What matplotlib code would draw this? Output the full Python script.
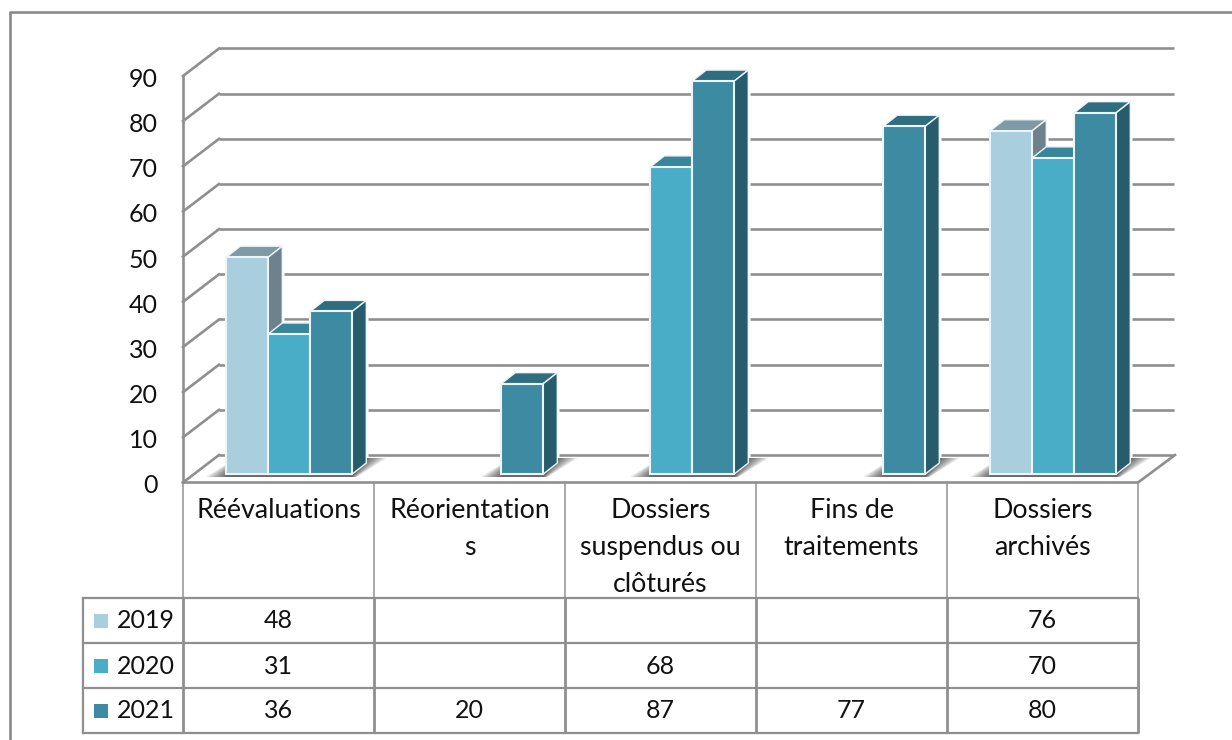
import matplotlib
matplotlib.use("Agg")
import matplotlib.pyplot as plt
from matplotlib.patches import Polygon, Rectangle
from matplotlib.transforms import Affine2D

plt.rcParams['font.family'] = ['Lato', 'DejaVu Sans']

# ---- data ----
categories = ["Réévaluations", "Réorientation\ns", "Dossiers\nsuspendus ou\nclôturés",
              "Fins de\ntraitements", "Dossiers\narchivés"]
years = ["2019", "2020", "2021"]
values_2019 = [48, None, None, None, 76]
values_2020 = [31, None, 68, None, 70]
values_2021 = [36, 20, 87, 77, 80]
y_ticks = [0, 10, 20, 30, 40, 50, 60, 70, 80, 90]

# ---- styles ----
front = ["#a9cedd", "#49adc8", "#3d8aa3"]
top = ["#7d9aa6", "#38869c", "#2e6e80"]
side = ["#6d828d", "#2f7488", "#265c6b"]
GRID = "#8f8f8f"
FS_NUM = 18
FS_TXT = 19.3
LW = 1.9

W, H = 1232, 740
fig = plt.figure(figsize=(W / 100, H / 100), dpi=100)

X0, X1, Y0, Y90 = 183, 1138, 482.5, 76
ax = fig.add_axes([X0 / W, 1 - Y0 / H, (X1 - X0) / W, (Y0 - Y90) / H])
ax.set_xlim(0, 5)
ax.set_ylim(0, 90)
ax.patch.set_alpha(0)
for s in ["top", "right", "bottom"]:
    ax.spines[s].set_visible(False)
ax.spines["left"].set_color(GRID)
ax.spines["left"].set_linewidth(LW)
ax.set_xticks([])
ax.set_yticks(y_ticks)
ax.tick_params(axis="y", length=0, pad=18, labelsize=FS_NUM)
for lab in ax.get_yticklabels():
    lab.set_color("#111111")
    lab.set_transform(lab.get_transform() + Affine2D().translate(0, -1.5))


def shifted(dx, dy):
    return ax.transData + Affine2D().translate(dx, dy)


WALL = shifted(36, 27.5)      # back wall of the 3-D box
BASE = shifted(10.8, 8.5)     # front faces of the columns
DX, DY = 14, 11               # depth of a column

# back wall grid and oblique links on the side wall
for v in y_ticks:
    ax.plot([0, 5], [v, v], transform=WALL, color=GRID, lw=LW, zorder=1, clip_on=False,
            solid_capstyle="butt")
    pf = ax.transData.transform((0, v))
    ax.add_line(plt.Line2D([pf[0], pf[0] + 36], [pf[1], pf[1] + 27.5], transform=None,
                           color=GRID, lw=LW, zorder=1, clip_on=False))

# floor front edge and right edge
pf0 = ax.transData.transform((0, 0))
pf1 = ax.transData.transform((5, 0))
ax.add_line(plt.Line2D([pf0[0], pf1[0], pf1[0] + 37], [pf0[1], pf1[1], pf1[1] + 27.5],
                       transform=None, color=GRID, lw=LW, zorder=1, clip_on=False))

bar_w = 42 / 191
series = [values_2019, values_2020, values_2021]

# white halo behind the columns cuts the grid lines
for c in range(len(categories)):
    for i in range(len(years)):
        v = series[i][c]
        if v is None:
            continue
        a = c + 0.5 + (i - 1.5) * bar_w
        pa = BASE.transform((a, v))
        pb = BASE.transform((a + bar_w, v))
        p0b = BASE.transform((a + bar_w, 0))
        ax.add_patch(Polygon([pa, [pa[0] + DX, pa[1] + DY], [pb[0] + DX, pb[1] + DY],
                              [p0b[0] + DX, p0b[1] + DY], p0b],
                             closed=True, transform=None, facecolor="white",
                             edgecolor="white", lw=3.2, zorder=2, clip_on=False))

# soft floor shadow under each run of columns
for c in range(len(categories)):
    idx = [i for i, s_ in enumerate(series) if s_[c] is not None]
    if not idx:
        continue
    a = c + 0.5 + (idx[0] - 1.5) * bar_w
    b = c + 0.5 + (idx[-1] - 0.5) * bar_w
    p0 = BASE.transform((a, 0))
    p1 = BASE.transform((b, 0))
    for k in range(16):
        g = 1.4 * k
        ax.add_patch(Polygon([[p0[0] - g, p0[1] - 3],
                              [p1[0] + g * 0.2, p1[1] - 3],
                              [p1[0] + 14 + g, p1[1] + 16],
                              [p0[0] + 14 - g * 0.2, p0[1] + 16]],
                             closed=True, transform=None, facecolor="#000000",
                             alpha=0.05, edgecolor="none", zorder=2.5, clip_on=False))

# columns, left to right so each overlaps the previous depth faces
order = [(c, i) for c in range(len(categories)) for i in range(len(years))]
for z, (c, i) in enumerate(order):
    v = series[i][c]
    if v is None:
        continue
    a = c + 0.5 + (i - 1.5) * bar_w
    b = a + bar_w
    zo = 3 + z * 0.01
    pa, pb = BASE.transform((a, v)), BASE.transform((b, v))
    p0b = BASE.transform((b, 0))
    ax.add_patch(Polygon([pa, pb, [pb[0] + DX, pb[1] + DY], [pa[0] + DX, pa[1] + DY]],
                         closed=True, transform=None, facecolor=top[i], edgecolor="#eef3f5",
                         lw=1.0, zorder=zo, clip_on=False, joinstyle="round"))
    ax.add_patch(Polygon([pb, [pb[0] + DX, pb[1] + DY], [p0b[0] + DX, p0b[1] + DY], p0b],
                         closed=True, transform=None, facecolor=side[i], edgecolor="#eef3f5",
                         lw=1.0, zorder=zo, clip_on=False, joinstyle="round"))
    ax.bar(a, v, width=bar_w, align="edge", color=front[i], edgecolor="#eef5f8", linewidth=1.5,
           transform=BASE, zorder=zo + 0.001, clip_on=False)
ax.set_xlim(0, 5)
ax.set_ylim(0, 90)

# ---- frame and data table, laid out in pixels ----
ov = fig.add_axes([0, 0, 1, 1], zorder=-1)
ov.set_xlim(0, W)
ov.set_ylim(H, 0)
ov.axis("off")

ov.plot([10, 10, W], [H, 12, 12], color="#8a8a8a", lw=LW, solid_capstyle="butt")

cell_x = [X0 + (X1 - X0) * k / 5 for k in range(6)]
row_y = [598, 643, 688, 733]
LEG_X = 83
for x in cell_x:
    ov.plot([x, x], [483, row_y[0]], color="#a3a3a3", lw=1.3, solid_capstyle="butt")
    ov.plot([x, x], [row_y[0], row_y[-1]], color=GRID, lw=2.0, solid_capstyle="butt")
for y in row_y:
    ov.plot([LEG_X, X1], [y, y], color=GRID, lw=1.6, solid_capstyle="projecting")
ov.plot([LEG_X, LEG_X], [row_y[0], row_y[-1]], color=GRID, lw=1.6)

for c, label in enumerate(categories):
    cx = (cell_x[c] + cell_x[c + 1]) / 2
    for n, line in enumerate(label.split("\n")):
        ov.text(cx, 511 + n * 36.5, line, ha="center", va="center", fontsize=FS_TXT,
                color="#111111")

for r, (yr, ser) in enumerate(zip(years, series)):
    yc = (row_y[r] + row_y[r + 1]) / 2
    ov.add_patch(Rectangle((94, yc - 7), 14, 14, facecolor=front[r], edgecolor="none"))
    ov.text(117, yc + 0.5, yr, ha="left", va="center", fontsize=FS_NUM, color="#111111")
    for c, v in enumerate(ser):
        if v is not None:
            ov.text((cell_x[c] + cell_x[c + 1]) / 2, yc + 0.5, str(v), ha="center", va="center",
                    fontsize=FS_NUM, color="#111111")

fig.savefig("out.png", dpi=100, facecolor="white")
